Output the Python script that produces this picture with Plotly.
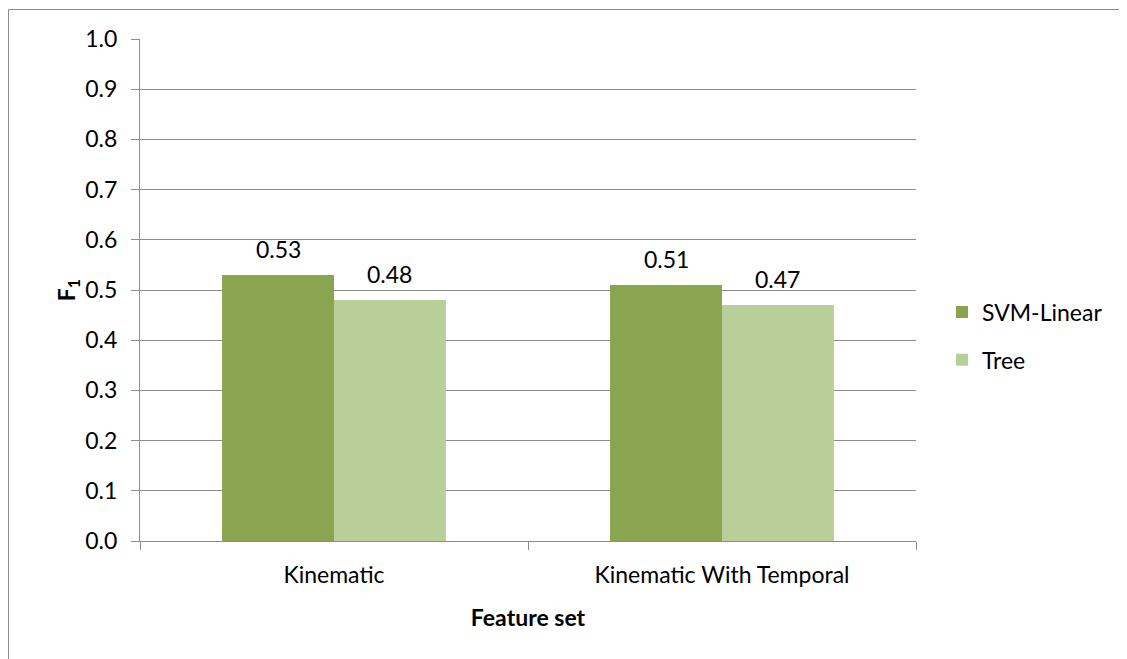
import plotly.graph_objects as go

categories = ["Kinematic", "Kinematic With Temporal"]
svm_values = [0.53, 0.51]
tree_values = [0.48, 0.47]
series_names = ["SVM-Linear", "Tree"]
y_ticks = [0.0, 0.1, 0.2, 0.3, 0.4, 0.5, 0.6, 0.7, 0.8, 0.9, 1.0]

FONT = "Lato"
FS = 23
GRID = "#8c8c8c"
colors = ["#8aa54f", "#b9cf99"]

# page has an 8px body margin: figure starts at (8, 8)
W, H = 1119, 651
L, T = 132, 31
pw, ph = 776, 502
R = W - L - pw
B = H - T - ph

fig = go.Figure()
for i, (name, vals) in enumerate(zip(series_names, [svm_values, tree_values])):
    fig.add_trace(go.Bar(
        x=categories, y=vals, name=name, marker=dict(color=colors[i], line=dict(width=0)),
        legendgroup=name, hoverinfo="x+y",
    ))

bargap = 0.423
half = (1 - bargap) / 4
annotations = []
for ci in range(len(categories)):
    for si, vals in enumerate([svm_values, tree_values]):
        off = -half if si == 0 else half
        annotations.append(dict(
            x=ci + off, y=vals[ci], xref="x", yref="y", text=f"{vals[ci]:.2f}",
            showarrow=False, yanchor="middle", yshift=26,
            font=dict(family=FONT, size=FS, color="black"),
        ))

fx0 = (0.5 - L) / pw
fx1 = (W - L) / pw
fy0 = -B / ph
fy1 = (ph + T - 1.5) / ph
frame = dict(color="#8c8c8c", width=1)

fig.update_layout(
    width=W, height=H,
    margin=dict(l=L, r=R, t=T, b=B),
    paper_bgcolor="white", plot_bgcolor="white",
    barmode="group", bargap=bargap, bargroupgap=0,
    font=dict(family=FONT, size=FS, color="black"),
    annotations=annotations,
    showlegend=True,
    legend=dict(x=(942 - 140) / pw, xanchor="left", y=(541 - 336) / ph, yanchor="middle",
                font=dict(family=FONT, size=FS, color="black"), tracegroupgap=15,
                itemwidth=30, bgcolor="rgba(0,0,0,0)"),
    shapes=[
        dict(type="line", xref="paper", yref="paper", x0=fx0, x1=fx1, y0=fy1, y1=fy1,
             line=frame, layer="below"),
        dict(type="line", xref="paper", yref="paper", x0=fx0, x1=fx0, y0=fy0, y1=fy1,
             line=frame, layer="below"),
    ],
)
fig.update_xaxes(
    type="category", range=[-0.5, 1.5], showline=True, linecolor=GRID, linewidth=1,
    ticks="outside", tickson="boundaries", ticklen=8, tickcolor=GRID, tickwidth=1,
    showgrid=False, zeroline=False, ticklabelstandoff=13,
    title=dict(text="<b>Feature set</b>", font=dict(family=FONT, size=FS), standoff=23),
)
fig.update_yaxes(
    range=[0, 1.0], tickvals=y_ticks, ticktext=[f"{v:.1f}" for v in y_ticks],
    showline=True, linecolor=GRID, linewidth=1, ticks="outside", ticklen=8,
    tickcolor=GRID, tickwidth=1, showgrid=True, gridcolor=GRID, gridwidth=1,
    zeroline=False, ticklabelstandoff=9,
    title=dict(text="<b>F<sub>1</sub></b>", font=dict(family=FONT, size=FS), standoff=3),
)
fig.write_html("out.html", post_script="document.body.style.overflow='hidden';")
